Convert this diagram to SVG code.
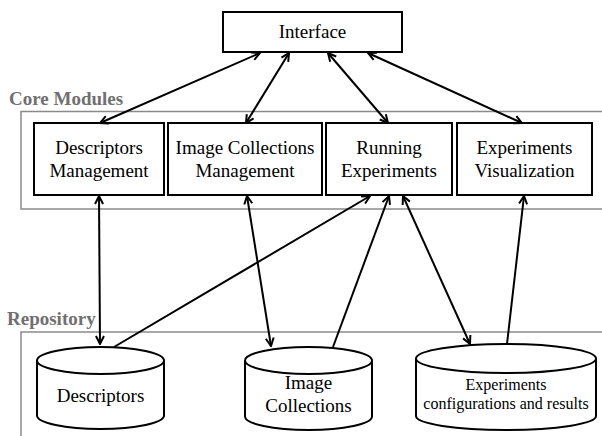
<svg xmlns="http://www.w3.org/2000/svg" width="602" height="436" viewBox="0 0 602 436">
<defs>
<style>
.box{fill:#fff;stroke:#000;stroke-width:2}
.frame{fill:none;stroke:#8a8a8a;stroke-width:1.5}
.lbl{font-family:"Liberation Serif","Times New Roman",serif;font-weight:bold;font-size:19px;fill:#707070}
.t{font-family:"Liberation Serif","Times New Roman",serif;font-size:19px;fill:#000;text-anchor:middle}
.ts{font-family:"Liberation Serif","Times New Roman",serif;font-size:16px;fill:#000;text-anchor:middle}
.c{fill:none;stroke:#000;stroke-width:2}
.cyl{fill:#fff;stroke:#000;stroke-width:2}
</style>
<marker id="ah" viewBox="0 0 10 10" refX="9" refY="5" markerWidth="10" markerHeight="10" markerUnits="userSpaceOnUse" orient="auto-start-reverse">
<path d="M1,1 L9,5 L1,9" fill="none" stroke="#000" stroke-width="2"/>
</marker>
</defs>
<rect width="602" height="436" fill="#fff"/>

<g id="core-frame">
<rect class="frame" x="21" y="111.5" width="600" height="97.5"/>
<text class="lbl" x="9" y="105">Core Modules</text>
</g>
<g id="repo-frame">
<rect class="frame" x="21" y="332" width="600" height="120"/>
<text class="lbl" x="7" y="325">Repository</text>
</g>

<g id="interface">
<rect class="box" x="223" y="12" width="179" height="40"/>
<text class="t" x="312.5" y="38">Interface</text>
</g>

<g id="descriptors-management">
<rect class="box" x="34" y="123" width="130" height="72"/>
<text class="t" x="99" y="154">Descriptors</text>
<text class="t" x="99" y="177">Management</text>
</g>
<g id="image-collections-management">
<rect class="box" x="168" y="123" width="154" height="72"/>
<text class="t" x="245" y="154">Image Collections</text>
<text class="t" x="245" y="177">Management</text>
</g>
<g id="running-experiments">
<rect class="box" x="326" y="123" width="126" height="72"/>
<text class="t" x="389" y="154">Running</text>
<text class="t" x="389" y="177">Experiments</text>
</g>
<g id="experiments-visualization">
<rect class="box" x="457" y="123" width="135" height="72"/>
<text class="t" x="524.5" y="154">Experiments</text>
<text class="t" x="524.5" y="177">Visualization</text>
</g>

<g id="descriptors-db">
<path class="cyl" d="M37,360.5 V415.5 A63.5,13.5 0 0 0 164,415.5 V360.5"/>
<ellipse class="cyl" cx="100.5" cy="360.5" rx="63.5" ry="13.5"/>
<text class="t" x="100.5" y="402">Descriptors</text>
</g>
<g id="image-collections-db">
<path class="cyl" d="M245,360.5 V416.5 A63.5,13.5 0 0 0 372,416.5 V360.5"/>
<ellipse class="cyl" cx="308.5" cy="360.5" rx="63.5" ry="13.5"/>
<text class="t" x="308.5" y="389">Image</text>
<text class="t" x="308.5" y="412">Collections</text>
</g>
<g id="experiments-results-db">
<path class="cyl" d="M416,358.5 V416 A90,14 0 0 0 596,416 V358.5"/>
<ellipse class="cyl" cx="506" cy="358.5" rx="90" ry="14.5"/>
<text class="ts" x="506" y="390">Experiments</text>
<text class="ts" x="506" y="409">configurations and results</text>
</g>

<g id="connectors">
<line class="c" x1="260" y1="53" x2="100" y2="123" marker-start="url(#ah)" marker-end="url(#ah)"/>
<line class="c" x1="289" y1="53" x2="246" y2="123" marker-start="url(#ah)" marker-end="url(#ah)"/>
<line class="c" x1="328" y1="53" x2="388" y2="123" marker-start="url(#ah)" marker-end="url(#ah)"/>
<line class="c" x1="368" y1="53" x2="522" y2="123" marker-start="url(#ah)" marker-end="url(#ah)"/>
<line class="c" x1="99" y1="196" x2="100" y2="344" marker-start="url(#ah)" marker-end="url(#ah)"/>
<line class="c" x1="247" y1="196" x2="271" y2="346" marker-start="url(#ah)" marker-end="url(#ah)"/>
<line class="c" x1="114" y1="347" x2="370" y2="196" marker-end="url(#ah)"/>
<line class="c" x1="333" y1="347" x2="389" y2="196" marker-end="url(#ah)"/>
<line class="c" x1="403" y1="196" x2="470" y2="344" marker-start="url(#ah)" marker-end="url(#ah)"/>
<line class="c" x1="507" y1="344" x2="524" y2="196" marker-end="url(#ah)"/>
</g>
</svg>
